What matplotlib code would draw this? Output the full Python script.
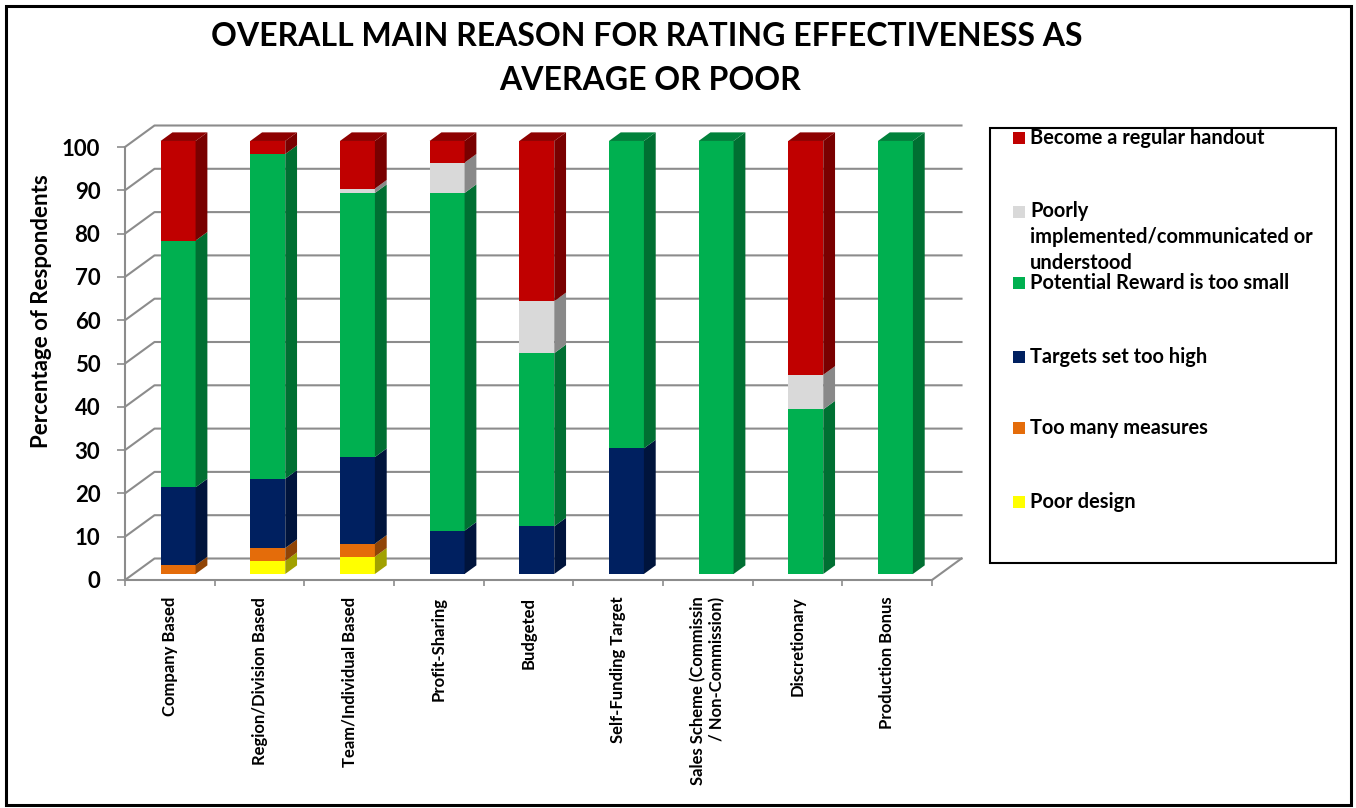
import numpy as np
import matplotlib.pyplot as plt
from matplotlib.patches import Polygon, Rectangle
from matplotlib.colors import to_rgb

categories = ["Company Based", "Region/Division Based", "Team/Individual Based",
              "Profit-Sharing", "Budgeted", "Self-Funding Target",
              "Sales Scheme (Commissin\n/ Non-Commission)", "Discretionary",
              "Production Bonus"]

# percentage of respondents per reason, stacked bottom to top
poor_design = [0, 3, 4, 0, 0, 0, 0, 0, 0]
too_many_measures = [2, 3, 3, 0, 0, 0, 0, 0, 0]
targets_too_high = [18, 16, 20, 10, 11, 29, 0, 0, 0]
reward_too_small = [57, 75, 61, 78, 40, 71, 100, 38, 100]
poorly_implemented = [0, 0, 1, 7, 12, 0, 0, 8, 0]
regular_handout = [23, 3, 11, 5, 37, 0, 0, 54, 0]

series = [
    ("Poor design", poor_design, "#FFFF00"),
    ("Too many measures", too_many_measures, "#E46C0A"),
    ("Targets set too high", targets_too_high, "#002060"),
    ("Potential Reward is too small", reward_too_small, "#00B050"),
    ("Poorly\nimplemented/communicated or\nunderstood", poorly_implemented, "#D9D9D9"),
    ("Become a regular handout", regular_handout, "#C00000"),
]

plt.rcParams['font.family'] = ['Lato', 'DejaVu Sans']
plt.rcParams['font.weight'] = 'bold'

W, H = 1356, 808
fig = plt.figure(figsize=(W / 100, H / 100), dpi=100)
ax = fig.add_axes([125 / W, 1 - 580 / H, 807 / W, 433 / H])
ax.set_xlim(0, 9)
ax.set_ylim(0, 100)

# depth of the 3-D box, expressed in data units of the front plane
DX, DY = 29.5 / 89.67, 21.5 / 4.33


def proj(x, v, z):
    return x + z * DX, v + z * DY


def shade(c, f):
    r, g, b = to_rgb(c)
    return (r * f, g * f, b * f)


grid_c = "#8c8c8c"
for v in range(0, 101, 10):
    p0, p1, p2 = proj(0, v, 0), proj(0, v, 1), proj(9, v, 1)
    ax.plot([p0[0], p1[0], p2[0]], [p0[1], p1[1], p2[1]], color=grid_c,
            lw=1.5, clip_on=False, zorder=1)
p0, p1 = proj(9, 0, 0), proj(9, 0, 1)
ax.plot([p0[0], p1[0]], [p0[1], p1[1]], color=grid_c, lw=1.5, clip_on=False, zorder=1)

for side in ["top", "right"]:
    ax.spines[side].set_visible(False)
for side in ["left", "bottom"]:
    ax.spines[side].set_color(grid_c)
    ax.spines[side].set_linewidth(1.5)

# bars: front face via ax.bar, side and top faces as polygons
xs = np.arange(9) + 0.5
hw, zf, zb = 0.195, 0.28, 0.68
bottoms = np.zeros(9)
top_color = [None] * 9
for name, vals, col in series:
    vals = np.array(vals, dtype=float)
    fx, fy = proj(xs, bottoms, zf)
    bars = ax.bar(fx, vals, width=2 * hw, bottom=fy, color=col, linewidth=0, zorder=3)
    for b in bars:
        b.set_clip_on(False)
    for i in range(9):
        if vals[i] <= 0:
            continue
        lo, hi = bottoms[i], bottoms[i] + vals[i]
        pts = [proj(xs[i] + hw, lo, zf), proj(xs[i] + hw, lo, zb),
               proj(xs[i] + hw, hi, zb), proj(xs[i] + hw, hi, zf)]
        ax.add_patch(Polygon(pts, closed=True, facecolor=shade(col, 0.63),
                             edgecolor="none", zorder=3, clip_on=False))
        top_color[i] = col
    bottoms += vals

for i in range(9):
    t = bottoms[i]
    pts = [proj(xs[i] - hw, t, zf), proj(xs[i] + hw, t, zf),
           proj(xs[i] + hw, t, zb), proj(xs[i] - hw, t, zb)]
    ax.add_patch(Polygon(pts, closed=True, facecolor=shade(top_color[i], 0.74),
                         edgecolor="none", zorder=3, clip_on=False))

ax.set_yticks(range(0, 101, 10))
ax.tick_params(axis="y", length=5.8, width=1.2, color=grid_c, pad=12, labelsize=16)
ax.set_xticks(xs)
ax.set_xticklabels(categories, rotation=90, fontsize=12, va="top", ha="center",
                   multialignment="right")
ax.set_xticks(np.arange(10), minor=True)
ax.tick_params(axis="x", which="major", length=0, pad=12)
ax.tick_params(axis="x", which="minor", length=4.5, width=1.2, color=grid_c)

fig.text(42 / W, 1 - 311 / H, "Percentage of Respondents", rotation=90,
         ha="center", va="center", fontsize=16)

fig.text(647 / W, 1 - 37 / H, "OVERALL MAIN REASON FOR RATING EFFECTIVENESS AS",
         ha="center", va="center", fontsize=23)
fig.text(650 / W, 1 - 80 / H, "AVERAGE OR POOR", ha="center", va="center", fontsize=23)

# legend box
fig.add_artist(Rectangle((990 / W, 1 - 563 / H), 346 / W, 435 / H,
                         transform=fig.transFigure, facecolor="none",
                         edgecolor="black", lw=1.5))
legend_y = [502, 428, 357, 283, 212, 138]
for (name, vals, col), y in zip(series, legend_y):
    fig.add_artist(Rectangle((1013 / W, 1 - (y + 6) / H), 12 / W, 12 / H,
                             transform=fig.transFigure, facecolor=col, edgecolor="none"))
    if "\n" in name:
        fig.text(1030 / W, 1 - 237 / H, name, ha="left", va="center",
                 fontsize=14.4, linespacing=1.38)
    else:
        fig.text(1030 / W, 1 - y / H, name, ha="left", va="center", fontsize=14.4)

# outer frame
fig.add_artist(Rectangle((5.5 / W, 3 / H), 1345 / W, 799.5 / H,
                         transform=fig.transFigure, facecolor="none",
                         edgecolor="black", lw=2.2))

fig.savefig("out.png", dpi=100)
